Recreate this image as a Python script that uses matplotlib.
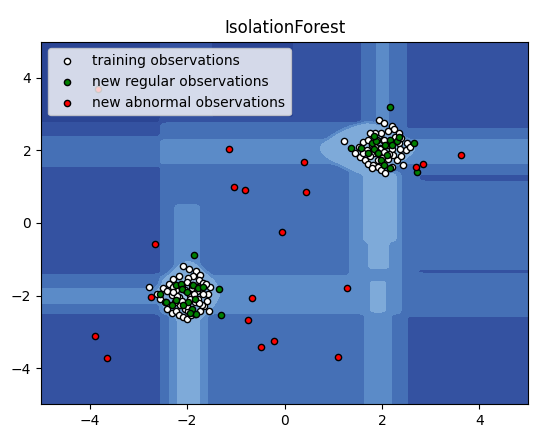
import numpy as np
import matplotlib
matplotlib.use("Agg")
import matplotlib.pyplot as plt

# ---------------- data ----------------
# outliers (new abnormal observations)
out_x = [-3.82, -1.15, -1.03, -0.82, 0.39, 0.45, 2.69, 2.85, 3.63, -0.06,
         -2.65, -2.75, -0.66, -0.74, -0.21, -0.49, -3.90, -3.65, 1.29, 1.09]
out_y = [3.70, 2.04, 0.99, 0.91, 1.69, 0.86, 1.55, 1.63, 1.88, -0.25,
         -0.58, -2.04, -2.07, -2.68, -3.26, -3.43, -3.12, -3.73, -1.80, -3.70]

# training observations
train_x = [-2.08, -1.96, -1.82, -1.74, -1.87, -2.16, -2.28, -1.99, -1.75, -1.68,
           -2.37, -2.49, -2.61, -2.56, -2.46, -2.37, -2.42, -2.32, -2.23, -2.16,
           -2.09, -2.00, -1.93, -1.84, -1.74, -1.66, -1.60, -1.52, -1.57, -1.55,
           -1.70, -1.84, -2.05, -2.15, -2.25, -2.32, -2.22, -2.11, -2.01, -1.91,
           -1.79, -1.67, -1.94, -2.16, -1.77, -2.28, -2.41, -1.61, -1.98, -2.78,
           -2.05, -1.95, -2.10, -1.85, -2.20, -1.90, -2.00, -1.75, -2.30, -1.80,
           1.93, 2.05, 2.20, 2.25, 2.13, 1.99, 1.86, 1.75, 1.23, 1.62,
           1.72, 1.52, 1.45, 1.55, 1.65, 1.72, 1.82, 1.91, 1.99, 2.06,
           2.20, 2.30, 2.40, 2.49, 2.51, 2.58, 2.44, 2.34, 2.20, 2.13,
           1.96, 1.84, 1.99, 1.79, 1.69, 2.13, 2.23, 1.91, 1.79, 1.62,
           2.37, 2.03, 1.89, 2.27, 2.34, 2.40,
           1.95, 2.05, 2.10, 1.85, 2.00, 2.15, 1.90, 2.20, 1.75, 2.05]
train_y = [-1.19, -1.26, -1.33, -1.42, -1.46, -1.46, -1.55, -1.52, -1.58, -1.64,
           -1.67, -1.79, -1.95, -2.09, -2.18, -2.27, -2.36, -2.47, -2.43, -2.53,
           -2.60, -2.64, -2.54, -2.50, -2.43, -2.29, -2.16, -1.76, -1.95, -2.43,
           -2.27, -2.18, -2.36, -2.27, -2.18, -1.99, -1.86, -1.72, -1.63, -1.79,
           -1.88, -1.95, -1.99, -2.04, -2.09, -1.76, -1.88, -1.67, -2.43, -1.76,
           -1.85, -2.10, -2.15, -1.95, -2.00, -1.70, -2.30, -2.20, -1.90, -1.75,
           2.84, 2.75, 2.67, 2.58, 2.54, 2.47, 2.47, 2.49, 2.27, 2.24,
           2.29, 2.10, 1.92, 1.83, 1.74, 1.63, 1.60, 1.55, 1.46, 1.39,
           1.55, 1.74, 1.85, 2.01, 2.21, 2.10, 1.60, 2.19, 2.03, 2.24,
           2.06, 1.92, 1.87, 2.15, 2.01, 1.75, 1.87, 1.74, 1.51, 1.92,
           2.03, 2.29, 2.30, 2.38, 2.47, 2.33,
           2.05, 1.95, 2.15, 2.10, 1.80, 1.90, 1.95, 2.20, 1.85, 2.30]

# new regular observations
reg_x = [-1.86, -1.35, -1.31, -2.55, -2.44, -2.22, -2.13, -2.11, -2.01, -1.87,
         -1.77, -1.67, -1.98, -2.08, -1.91, -1.84, -1.81, -2.22, -2.32, -1.94,
         2.17, 1.36, 2.66, 2.71, 1.79, 1.87, 1.84, 1.72, 2.06, 2.16,
         2.30, 2.21, 1.99, 2.05, 2.16, 1.91, 1.58, 2.34, 2.10, 1.84]
reg_y = [-0.87, -1.81, -2.54, -1.95, -2.18, -1.72, -1.67, -1.83, -1.90, -1.72,
         -1.79, -1.76, -2.18, -2.27, -2.36, -2.09, -2.50, -2.13, -2.27, -2.47,
         3.19, 2.06, 2.21, 1.41, 2.21, 2.25, 2.03, 1.92, 2.15, 2.30,
         2.27, 2.15, 1.74, 1.60, 1.51, 1.94, 2.06, 2.38, 1.87, 2.40]

# decision-function level map (painted in order)
reg_x0 = [-5, -5, -5, -5, -5, -5, -2.55, -1.5, -2.55, 2.5, 2.52, 2.77, 2.73,
          1.58, 1.9, 1.33, 1.62, 1.72, 1.76, 1.64, -2.55, -2.36, -2.19, -2.26]
reg_x1 = [5, -2.55, -2.55, -2.55, -2.55, -2.55, 1.58, 0.2, 5, 5, 5, 5, 5,
          2.4, 2.15, 2.4, 2.3, 2.15, 2.08, 2.19, 1.4, -1.58, -1.74, -1.74]
reg_y0 = [-5, -5, 2.76, 1.57, -2.5, -2.2, 2.76, 2.9, 1.63, 2.6, -5, 1.16, -1.355,
          2.6, 2.6, -2.5, -0.5, -1.25, -2.45, -5, -2.5, -5, -5, -1.4]
reg_y1 = [5, 5, 5, 2.38, -1.41, -1.8, 5, 5, 2.3, 5, -2.57, 1.35, -1.31,
          5, 5, 1.4, 1.4, -0.5, -1.6, -2.5, -1.45, -1.4, -2.5, 0.5]
reg_lvl = [2, 1, 0, 2, 2, 3, 1, 0, 3, 1, 1, 1, 0,
           2, 3, 3, 4, 4, 4, 3, 3, 3, 4, 3]

# lighter patches around the two clusters
patch_cx = [-1.98, 1.70, -1.98, 1.95]
patch_cy = [-1.93, 2.05, -1.95, 2.00]
patch_rx = [0.66, 0.98, 0.35, 0.45]
patch_ry = [0.88, 0.72, 0.45, 0.40]
patch_lvl = [4, 4, 5, 5]

level_colors = ['#2b4594', '#3452a1', '#4570b6', '#5b8bc8', '#7eaad9', '#9dc3e5']

# ---------------- build the field ----------------
xs = np.linspace(-5, 5, 801)
ys = np.linspace(-5, 5, 801)
XX, YY = np.meshgrid(xs, ys)
Z = np.zeros_like(XX)
for x0, x1, y0, y1, lv in zip(reg_x0, reg_x1, reg_y0, reg_y1, reg_lvl):
    m = (XX >= x0) & (XX <= x1) & (YY >= y0) & (YY <= y1)
    Z[m] = lv
for cx, cy, rx, ry, lv in zip(patch_cx, patch_cy, patch_rx, patch_ry, patch_lvl):
    d = (np.abs(XX - cx) / rx) ** 1.4 + (np.abs(YY - cy) / ry) ** 1.4
    Z = np.where(d < 1, np.maximum(Z, lv), Z)


def blur(a, sig):
    r = int(3 * sig) + 1
    t = np.arange(-r, r + 1)
    k = np.exp(-0.5 * (t / sig) ** 2)
    k /= k.sum()
    ap = np.pad(a, r, mode='edge')
    ap = np.apply_along_axis(lambda v: np.convolve(v, k, mode='valid'), 0, ap)
    ap = np.apply_along_axis(lambda v: np.convolve(v, k, mode='valid'), 1, ap)
    return ap


Z = blur(Z, 4.0)

# ---------------- plot ----------------
fig = plt.figure(figsize=(5.6, 4.43), dpi=100)
ax = fig.add_axes([0.0732, 0.087, 0.8698, 0.8193])
ax.contourf(XX, YY, Z, levels=np.arange(-0.5, 6.0, 1.0), colors=level_colors)

b1 = ax.scatter(train_x, train_y, c='white', s=20, edgecolor='k', zorder=3)
b2 = ax.scatter(reg_x, reg_y, c='green', s=20, edgecolor='k', zorder=3)
c = ax.scatter(out_x, out_y, c='red', s=20, edgecolor='k', zorder=3)

ax.set_xlim(-5, 5)
ax.set_ylim(-5, 5)
ax.set_xticks([-4, -2, 0, 2, 4])
ax.set_yticks([-4, -2, 0, 2, 4])
ax.set_title("IsolationForest")
ax.legend([b1, b2, c],
          ["training observations", "new regular observations",
           "new abnormal observations"],
          loc="upper left")

fig.savefig("out.png", dpi=100)
